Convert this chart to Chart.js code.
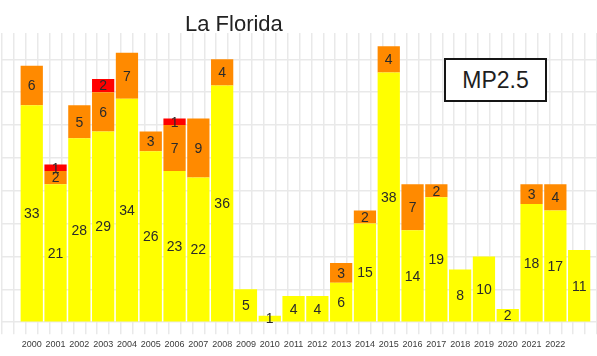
<!DOCTYPE html>
<html>
<head>
<meta charset="utf-8">
<script src="https://cdn.jsdelivr.net/npm/chart.js@4.4.1/dist/chart.umd.min.js"></script>
<style>
  html, body { margin: 0; padding: 0; background: #ffffff; }
  #wrap { position: relative; width: 597px; height: 356px; overflow: hidden; }
  #chart { position: absolute; left: 0; top: 0; }
  #title {
    position: absolute; left: 185px; top: 13px;
    font: 22px "Liberation Sans", Arial, sans-serif; line-height: 22px;
    color: #222222; white-space: nowrap;
  }
  #tag {
    position: absolute; left: 444px; top: 58px; width: 103px; height: 44px;
    box-sizing: border-box; border: 2px solid #151515; background: #ffffff;
    display: flex; align-items: center; justify-content: center;
    font: 23px "Liberation Sans", Arial, sans-serif; color: #1e1e1e;
  }
</style>
</head>
<body>
<div id="wrap">
  <canvas id="chart" width="597" height="356"></canvas>
  <div id="title">La Florida</div>
  <div id="tag">MP2.5</div>
</div>
<script>
// Years shown on the axis (the last year carries no tick label)
const years = [2000, 2001, 2002, 2003, 2004, 2005, 2006, 2007, 2008, 2009, 2010, 2011,
               2012, 2013, 2014, 2015, 2016, 2017, 2018, 2019, 2020, 2021, 2022, 2023];
const tickLabels = ['2000', '2001', '2002', '2003', '2004', '2005', '2006', '2007', '2008',
                    '2009', '2010', '2011', '2012', '2013', '2014', '2015', '2016', '2017',
                    '2018', '2019', '2020', '2021', '2022'];

// Episode counts per year, stacked bottom to top
const yellowDays = [33, 21, 28, 29, 34, 26, 23, 22, 36, 5, 1, 4, 4, 6, 15, 38, 14, 19, 8, 10, 2, 18, 17, 11];
const orangeDays = [6, 2, 5, 6, 7, 3, 7, 9, 4, 0, 0, 0, 0, 3, 2, 4, 7, 2, 0, 0, 0, 3, 4, 0];
const redDays    = [0, 1, 0, 2, 0, 0, 1, 0, 0, 0, 0, 0, 0, 0, 0, 0, 0, 0, 0, 0, 0, 0, 0, 0];

const GRID = '#e9e9e9';

// Writes each non-zero value in the middle of its bar segment
const segmentLabels = {
  id: 'segmentLabels',
  afterDatasetsDraw(chart) {
    const ctx = chart.ctx;
    ctx.save();
    ctx.font = '14px "Liberation Sans", Arial, sans-serif';
    ctx.fillStyle = '#2a2a2a';
    ctx.textAlign = 'center';
    ctx.textBaseline = 'middle';
    chart.data.datasets.forEach((ds, i) => {
      const meta = chart.getDatasetMeta(i);
      meta.data.forEach((bar, j) => {
        const v = ds.data[j];
        if (!v) return;
        const p = bar.getProps(['x', 'y', 'base'], true);
        ctx.fillText(String(v), p.x, (p.y + p.base) / 2 + 1);
      });
    });
    ctx.restore();
  }
};

new Chart(document.getElementById('chart'), {
  type: 'bar',
  data: {
    labels: years,
    datasets: [
      { label: 'Alerta', data: yellowDays, backgroundColor: '#ffff00' },
      { label: 'Preemergencia', data: orangeDays, backgroundColor: '#ff8a00' },
      { label: 'Emergencia', data: redDays, backgroundColor: '#ff0000' }
    ]
  },
  options: {
    responsive: false,
    animation: false,
    devicePixelRatio: 1,
    // the bar ruler also counts the half-year grid ticks, so a full year spans two of them
    datasets: { bar: { barPercentage: 0.935, categoryPercentage: 2, borderWidth: 0 } },
    layout: { padding: { top: 33, left: 2, right: 0, bottom: 1 } },
    plugins: { legend: { display: false }, title: { display: false }, tooltip: { enabled: false } },
    scales: {
      x: {
        type: 'linear',
        stacked: true,
        min: 1999,
        max: 2023.5,
        border: { display: false },
        grid: { color: GRID, lineWidth: 1.5, tickLength: 12, drawTicks: true },
        ticks: {
          stepSize: 0.5,
          autoSkip: false,
          maxRotation: 0,
          minRotation: 0,
          padding: 5,
          color: '#3a3a3a',
          font: { family: '"Liberation Sans", Arial, sans-serif', size: 9 },
          callback: (value) => Number.isInteger(value) ? (tickLabels[value - years[0]] ?? '') : ''
        }
      },
      y: {
        stacked: true,
        min: 0,
        max: 44,
        border: { display: false },
        grid: {
          drawTicks: false,
          lineWidth: 1.5,
          color: (c) => (c.tick && c.tick.value % 5 === 0) ? GRID : 'rgba(0,0,0,0)'
        },
        ticks: { display: false, stepSize: 5 }
      }
    }
  },
  plugins: [segmentLabels]
});
</script>
</body>
</html>
